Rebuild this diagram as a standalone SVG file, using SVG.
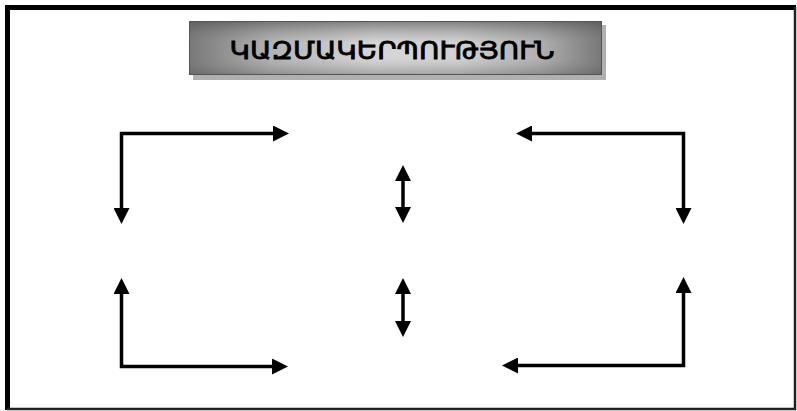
<svg xmlns="http://www.w3.org/2000/svg" width="797" height="411" viewBox="0 0 797 411">
  <defs>
    <linearGradient id="gh" x1="0" y1="0" x2="1" y2="0">
      <stop offset="0" stop-color="#787878"/>
      <stop offset="0.2" stop-color="#b4b4b4"/>
      <stop offset="0.45" stop-color="#d6d6d6"/>
      <stop offset="0.65" stop-color="#d2d2d2"/>
      <stop offset="0.85" stop-color="#b0b0b0"/>
      <stop offset="1" stop-color="#787878"/>
    </linearGradient>
    <linearGradient id="gv" x1="0" y1="0" x2="0" y2="1">
      <stop offset="0" stop-color="#505050" stop-opacity="0.6"/>
      <stop offset="0.4" stop-color="#808080" stop-opacity="0"/>
      <stop offset="0.7" stop-color="#808080" stop-opacity="0"/>
      <stop offset="1" stop-color="#505050" stop-opacity="0.35"/>
    </linearGradient>
    <marker id="ah" viewBox="0 0 16 16" refX="1" refY="8" markerWidth="16" markerHeight="16" markerUnits="userSpaceOnUse" orient="auto-start-reverse">
      <path d="M0,0 L16,8 L0,16 Z" fill="#000"/>
    </marker>
    <style>
      .conn { fill: none; stroke: #000; stroke-width: 3.5; stroke-linejoin: miter; }
      .title { font-family: "DejaVu Sans", "Noto Sans", sans-serif; font-size: 24px; font-weight: normal; fill: #000; stroke: #000; stroke-width: 0.8px; }
    </style>
  </defs>

  <rect x="0" y="0" width="797" height="411" fill="#fff"/>

  <g id="frame">
    <path d="M7.5,410 L7.5,7.5 L796,7.5" fill="none" stroke="#000" stroke-width="5"/>
    <path d="M795,7 L795,409 L7,409" fill="none" stroke="#222" stroke-width="2.5"/>
  </g>

  <g id="title">
    <rect x="193" y="25" width="413" height="55" fill="#b0b0b0"/>
    <rect x="189.5" y="21.5" width="412" height="53" fill="url(#gh)" stroke="#555" stroke-width="1"/>
    <rect x="190" y="22" width="411" height="52" fill="url(#gv)"/>
    <text class="title" x="392" y="59" text-anchor="middle" textLength="325" lengthAdjust="spacingAndGlyphs">ԿԱԶՄԱԿԵՐՊՈՒԹՅՈՒՆ</text>
  </g>

  <g id="connectors">
    <path class="conn" d="M121.5,209 L121.5,133.5 L274,133.5" marker-start="url(#ah)" marker-end="url(#ah)"/>
    <path class="conn" d="M121.5,293 L121.5,366.5 L273,366.5" marker-start="url(#ah)" marker-end="url(#ah)"/>
    <path class="conn" d="M683.5,209 L683.5,133.5 L531,133.5" marker-start="url(#ah)" marker-end="url(#ah)"/>
    <path class="conn" d="M683.5,292 L683.5,365.5 L517,365.5" marker-start="url(#ah)" marker-end="url(#ah)"/>
    <path class="conn" d="M403,180 L403,208" marker-start="url(#ah)" marker-end="url(#ah)"/>
    <path class="conn" d="M403,293 L403,322" marker-start="url(#ah)" marker-end="url(#ah)"/>
  </g>
</svg>
